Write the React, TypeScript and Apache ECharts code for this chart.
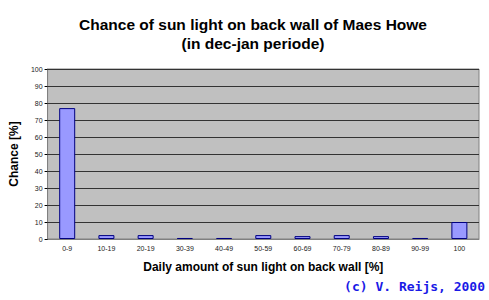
import React, { useEffect, useRef } from "react";
import * as echarts from "echarts";

const categories = ["0-9", "10-19", "20-19", "30-39", "40-49", "50-59", "60-69", "70-79", "80-89", "90-99", "100"];
const chanceValues = [77, 2.3, 2.3, 0.6, 0.6, 2.3, 1.7, 2.3, 1.7, 0.6, 10];
const yTicks = [0, 10, 20, 30, 40, 50, 60, 70, 80, 90, 100];

export default function App() {
  const ref = useRef<HTMLDivElement>(null);
  useEffect(() => {
    if (!ref.current) return;
    const chart = echarts.init(ref.current, null, { renderer: "svg" });
    chart.setOption({
      animation: false,
      backgroundColor: "#ffffff",
      title: {
        text: "Chance of sun light on back wall of Maes Howe\n(in dec-jan periode)",
        left: 248,
        textAlign: "center",
        top: 10,
        textStyle: {
          fontFamily: "Liberation Sans, Arial, sans-serif",
          fontSize: 15.5,
          fontWeight: "bold",
          color: "#000",
          lineHeight: 19,
        },
      },
      grid: {
        left: 46,
        right: 10,
        top: 69,
        bottom: 61,
        show: true,
        backgroundColor: "#c0c0c0",
        borderColor: "#808080",
        borderWidth: 1,
      },
      xAxis: {
        type: "category",
        data: categories,
        name: "Daily amount of sun light on back wall [%]",
        nameLocation: "middle",
        nameGap: 22,
        nameTextStyle: {
          fontFamily: "Liberation Sans, Arial, sans-serif",
          fontSize: 12,
          fontWeight: "bold",
          color: "#000",
        },
        axisLine: { lineStyle: { color: "#808080" } },
        axisTick: { alignWithLabel: false, length: 3, lineStyle: { color: "#000" } },
        axisLabel: {
          fontFamily: "Liberation Sans, Arial, sans-serif",
          fontSize: 7,
          color: "#222",
          margin: 6,
          interval: 0,
        },
      },
      yAxis: {
        type: "value",
        min: 0,
        max: 100,
        interval: 10,
        name: "Chance [%]",
        nameLocation: "middle",
        nameRotate: 90,
        nameGap: 15,
        nameTextStyle: {
          fontFamily: "Liberation Sans, Arial, sans-serif",
          fontSize: 12,
          fontWeight: "bold",
          color: "#000",
        },
        axisLine: { show: true, lineStyle: { color: "#808080" } },
        axisTick: { show: true, length: 3, lineStyle: { color: "#000" } },
        axisLabel: {
          fontFamily: "Liberation Sans, Arial, sans-serif",
          fontSize: 7,
          color: "#222",
          margin: 5,
          formatter: (v: number) => (yTicks.includes(v) ? String(v) : ""),
        },
        splitLine: { show: true, lineStyle: { color: "#333333", width: 1 } },
      },
      series: [
        {
          type: "bar",
          data: chanceValues,
          barWidth: 16,
          itemStyle: { color: "#9999ff", borderColor: "#000080", borderWidth: 1 },
        },
      ],
      graphic: [
        {
          type: "text",
          right: 4,
          top: 280,
          style: {
            text: "(c) V. Reijs, 2000",
            fontFamily: "DejaVu Sans Mono, monospace",
            fontSize: 13,
            fontWeight: "bold",
            fill: "#1a1ae6",
          },
        },
      ],
    });
    return () => chart.dispose();
  }, []);
  return <div ref={ref} style={{ width: 489, height: 300, position: "absolute", left: 0, top: 0 }} />;
}
